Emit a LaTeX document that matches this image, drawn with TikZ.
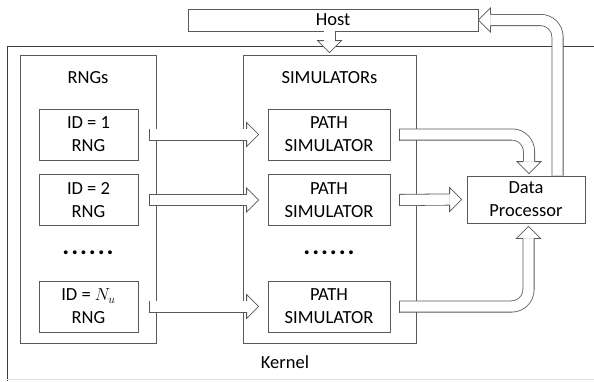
\documentclass[tikz,border=0pt]{standalone}
\usepackage{fontspec}
\setmainfont{Carlito}
\usetikzlibrary{positioning, calc}

\definecolor{boxline}{RGB}{89,89,89}
\definecolor{frameline}{RGB}{60,60,60}
\newcommand\dotrow{{\fontsize{26}{26}\selectfont\bfseries .\hskip1.9pt.\hskip1.9pt.\hskip1.9pt.\hskip1.9pt.\hskip1.9pt.}}

\begin{document}
\begin{tikzpicture}
[x=1pt, y=1pt,
 font=\fontsize{18.5}{23}\selectfont,
 every node/.style={inner sep=0pt, align=center},
 box/.style={draw=boxline, line width=0.8pt, fill=white},
 group/.style={draw=boxline, line width=0.8pt},
 pipe/.style={draw=boxline, line width=0.8pt, double=white,
   double distance=10.4pt, rounded corners=17pt},
 head/.pic={
   \fill[white] (0,0) -- (-12,12) -- (-12,-12) -- cycle;
   \draw[boxline, line width=0.8pt] (-12,5.6) -- (-12,12) -- (0,0)
     -- (-12,-12) -- (-12,-5.6);
 },
 cap/.pic={\draw[boxline, line width=0.8pt] (0,-6) -- (0,6);},
]
\useasboundingbox (0,0) rectangle (594,-381);

% kernel frame
\draw[frameline, line width=0.8pt] (594,-46) -- (7,-46) -- (7,-381);
\draw[black!12, line width=1pt] (7,-379.5) -- (594,-379.5);
\node (kernel) at (285,-362) {Kernel};

\node[box, minimum width=290, minimum height=22] (host) at (333,-20) {Host};

\node[group, minimum width=136, minimum height=288] (rngs) at (88,-199) {};
\node[group, minimum width=173, minimum height=288] (sims) at (329.5,-199) {};
\node (rngstitle) at ($(rngs.north)+(0,-23)$) {RNGs};
\node (simstitle) at ($(sims.north)+(0,-23)$) {SIMULATORs};

\node (rngdots) at (88,-253) {\dotrow};
\node (simdots) at (329,-253) {\dotrow};

\node[box, minimum width=118, minimum height=47] (data) at (526,-199.5) {Data\\Processor};

% one row per generator
\foreach \r/\y/\t in {1/-134.5/{ID = 1}, 2/-200/{ID = 2}, N/-306.5/{ID = $N_u$}} {
  \node[box, minimum width=99, minimum height=51] (rng\r) at (88.5,\y) {\t\\RNG};
  \node[box, minimum width=122, minimum height=51] (path\r) at (329,\y) {PATH\\SIMULATOR};
  \draw[pipe] ($(rng\r.east)+(11,0)$) -- ($(path\r.west)+(-21,0)$);
  \pic at ($(path\r.west)+(-9,0)$) {head};
  \pic at ($(rng\r.east)+(11,0)$) {cap};
}

% to the data processor
\draw[pipe] ($(path1.east)+(9,0)$) -| ($(data.north)+(3,14)$);
\pic[rotate=-90] at ($(data.north)+(3,2)$) {head};
\pic at ($(path1.east)+(9,0)$) {cap};

\draw[pipe] ($(path2.east)+(9,0)$) -- ($(data.west)+(-17,0)$);
\pic at ($(data.west)+(-5,0)$) {head};
\pic at ($(path2.east)+(9,0)$) {cap};

\draw[pipe] ($(pathN.east)+(9,0)$) -| ($(data.south)+(2.5,-15)$);
\pic[rotate=90] at ($(data.south)+(2.5,-3)$) {head};
\pic at ($(pathN.east)+(9,0)$) {cap};

% host links
\draw[pipe] ($(data.north)+(31.5,0)$) |- ($(host.east)+(12,0)$);
\pic[rotate=180] at (host.east) {head};

\draw[pipe] (host.south -| sims.north) -- ($(sims.north)+(0,14)$);
\pic[rotate=-90] at ($(sims.north)+(0,2)$) {head};
\end{tikzpicture}
\end{document}
